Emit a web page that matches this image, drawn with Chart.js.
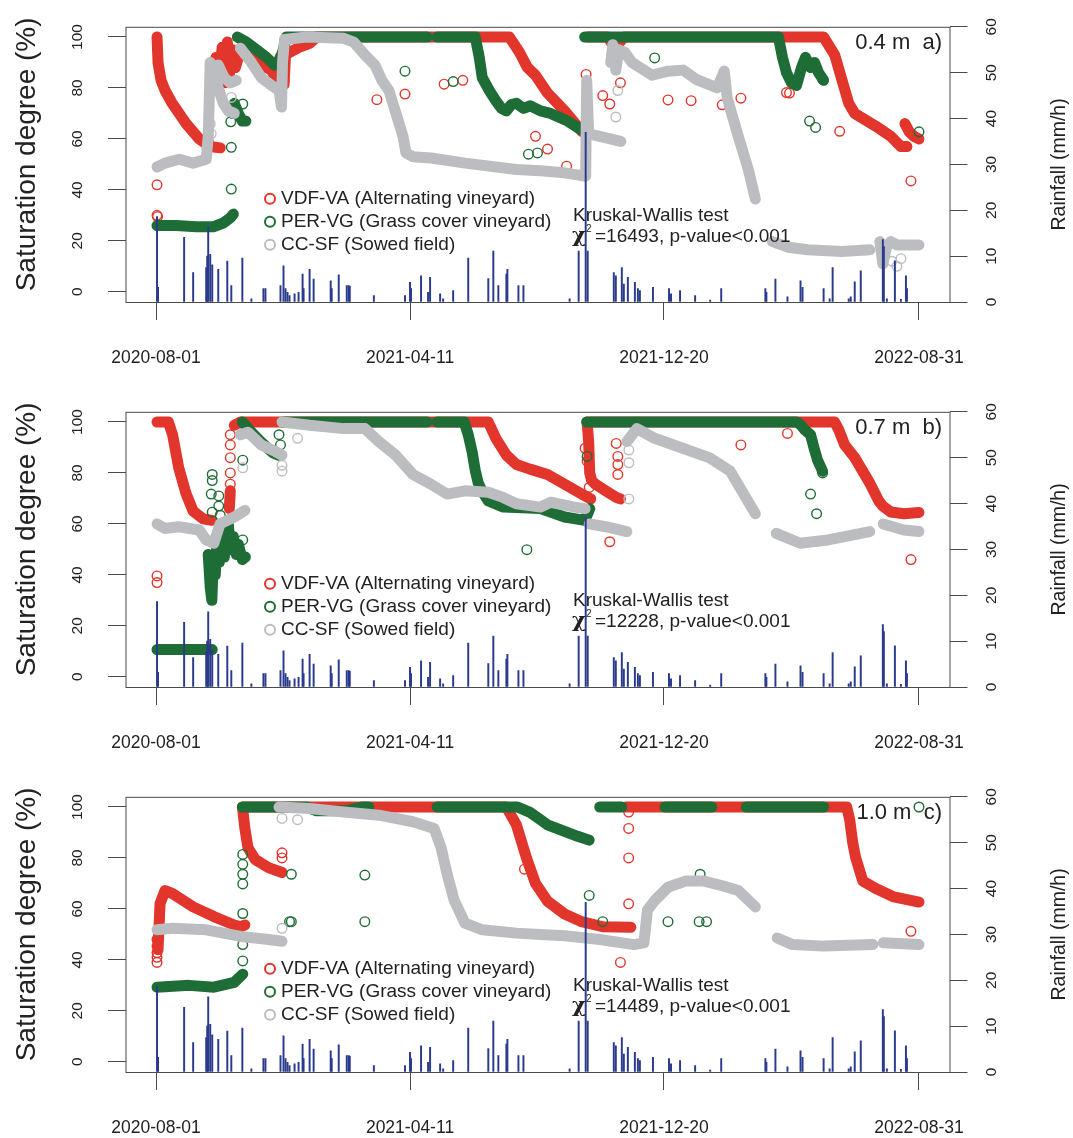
<!DOCTYPE html>
<html>
<head>
<meta charset="utf-8">
<script src="https://cdn.jsdelivr.net/npm/chart.js@4.4.1/dist/chart.umd.min.js"></script>
<style>
  html, body { margin: 0; padding: 0; background: #fff; overflow: hidden; }
  #wrap { position: relative; width: 1073px; height: 1138px; overflow: hidden; }
  .panel { position: absolute; left: 0; width: 1073px; height: 385px; }
</style>
</head>
<body>
<div id="wrap">
  <div class="panel" style="top:0"><canvas id="panelA" width="1073" height="385"></canvas></div>
  <div class="panel" style="top:385px"><canvas id="panelB" width="1073" height="385"></canvas></div>
  <div class="panel" style="top:770px"><canvas id="panelC" width="1073" height="385"></canvas></div>
</div>
<script>
// x = days since 2020-08-01
const xTickDays = [0, 253, 506, 760];
const xTickLabels = ['2020-08-01', '2021-04-11', '2021-12-20', '2022-08-31'];
const satTicks = [0, 20, 40, 60, 80, 100];
const rainTicks = [0, 10, 20, 30, 40, 50, 60];

// rainfall (mm/h), same station for all depths
const rainDays = [1,2,28,37,50,51,52,54,56,62,71,75,86,95,107,109,124,127,129,131,133,138,142,146,147,153,157,174,175,182,190,192,193,217,248,253,254,264,271,273,283,286,296,311,331,336,341,349,350,361,366,412,421,428,430,456,458,464,466,470,477,480,482,495,511,513,522,537,552,563,607,608,617,629,642,644,665,671,674,690,692,696,702,724,725,728,736,742,747,748];
const rainMm = [18.6,3.2,14.1,6.4,7.5,10,16.4,10.4,8.1,7.1,8.9,3.6,9.6,0.7,2.9,2.9,3.6,7.9,2.9,2.1,1.4,1.8,2.1,6.1,2.9,7.1,5,4.6,2.9,5.9,3.6,3.6,3.4,1.4,1.4,4.3,2.9,5.7,2.1,5.4,1.8,0.7,2.5,9.6,5.1,11.1,3.6,6.1,7.1,3.6,3.6,0.7,11.1,37,11.1,6.4,5.7,7.5,3.9,5.4,4.3,2.9,2.5,3.2,2.9,1.8,2.5,1.4,0.4,2.9,2.9,2.1,5,1.1,4.6,3.2,2.9,0.7,7.5,0.7,1.1,4.4,6.8,13.6,12.1,0.7,9,0.6,5.7,2.9];

// ---- 0.4 m (a) ----  [day, saturation %]
const vdfBandsA = [
  [[1,100],[2,90],[5,83],[9,79],[16,74],[30,66],[43,60],[53.5,57],[64,56.5]],
  [[57.6,80],[59.7,92],[62.8,84],[65.9,96],[67.9,82],[71,98],[73,85],[76,95],[79,88],[82,92]],
  [[98.5,93],[105,89],[115,87],[120,83],[123.5,92],[127.6,81.5],[129,93],[133,94],[143,96],[153,97.5],[160,100],[352,100],[362,94],[370,88],[378,85],[390,78],[407,71],[424,63],[429,62]],
  [[430,100],[450,100],[455,97],[462,98],[466,100],[665,100],[676,93],[690,74],[696,70],[717,65],[732,61],[742,57],[748,57]],
  [[746,66],[750,63],[755,61],[760,60]]
];
const vdfPointsA = [[1,42],[1,30],[1.5,29.5],[52,59],[220,75.4],[248,77.6],[287,81.5],[305.6,83],[378,61],[390,56],[409,49.3],[428.4,85.3],[445,77],[452,73.7],[462.6,82],[510,75.3],[533,75],[564,73.4],[582.6,76],[628,78.2],[631,78],[681,63],[752,43.5]];
const perBandsA = [
  [[1,26],[20,26],[40,25.5],[57,25.5],[67,27],[74,29],[77,30.5]],
  [[78,74],[82,70],[86,67],[89.5,67]],
  [[81,100],[90,98],[100,95],[110,92],[118,89],[122,90],[126,94],[130,100],[270,100]],
  [[280,100],[318,100],[322,92],[325,84],[332,79],[338.5,75],[344,72],[349,71],[354,73.5],[359,74],[366,72],[373,73],[383,71],[393,70],[410,67],[424,63.5],[427,63]],
  [[427,100],[620,100],[624,92],[628,86],[633,82],[638,81],[643,88],[647,92],[652,88],[656,90],[660,86],[665,83]]
];
const perPointsA = [[75,40.3],[75,56.7],[74.5,66.7],[86.4,73.7],[76,70],[248,86.6],[296,82.5],[371,54],[380,54.5],[496.7,91.8],[651,67],[657,64.5],[664,83.4],[760,62.8]];
const ccBandsA = [
  [[1,49],[9,50.5],[23,52],[37,50.5],[50,52],[52,61],[54,90],[58,86],[62,80],[67,74],[72,71],[78,70]],
  [[62,89],[68,84],[74,82],[80,83]],
  [[84,95.6],[95,90],[105,84],[115,81],[122.5,79],[125,72.5],[126,90],[128,99],[150,100],[187,99.5],[197,98],[208,93],[218,89],[225,83],[232,79],[239,70],[246,61],[249,54.5],[256,53],[274,52.5],[308,50.5],[359,48],[383,47.5],[407,46.7],[427,45.4]],
  [[428,45.4],[429,83],[431,62],[442,61],[463,59]],
  [[453,90],[455,97],[458,87],[461,95],[467,94],[474,90],[494,85],[510,86.6],[525,87],[538,83.4],[559,80],[566,86.6],[569,76],[580,61],[590,48],[597,36.4]],
  [[614,19.7],[630,17.5],[649,16.5],[683,15.8],[711,16.5]],
  [[721,19.7],[724,11],[728,18],[732,19.7],[738,18.4],[760,18.4]]
];
const ccPointsA = [[54,66],[55,62],[75,76.3],[458,68.6],[460,79],[733,12],[738,10],[742,13]];

// ---- 0.7 m (b) ----
const vdfBandsB = [
  [[1,100],[12.3,100],[16.5,95],[22.6,82],[29.8,72],[37,65],[47,62],[55.6,61.4]],
  [[73,66],[74,73]],
  [[78,98.7],[84,100],[331,100],[338.5,93.6],[349,87],[359,83.3],[372.5,81.5],[390,79.4],[407,75.6],[424,71.7],[433,69.8]],
  [[429.4,100],[431,92],[432,80],[434,77],[437.7,75.6],[448,73],[458.4,70.4],[462.6,69.8]],
  [[433,100],[676,100],[680,97],[686,91],[696,86],[711,76],[720,69],[724,67],[732,64.7],[745,64],[760,64.5]]
];
const vdfPointsB = [[1,39.6],[1,37],[74,95],[74,91],[74,86],[74,80],[74,75.6],[427.4,89.7],[429.4,84.6],[431.5,74.3],[452,53],[458.4,91.6],[460,86.5],[460,83.3],[460,79.4],[582.6,91],[629,95.5],[752,46]];
const perBandsB = [
  [[1,10.7],[56,10.7]],
  [[52,48],[54,35],[55.6,30],[57,45],[59,40],[61,55],[63,45],[66,58],[68,47],[72,60],[74,50],[77,55],[80,48],[82,52],[86,46],[89,47]],
  [[86,100],[95,96],[105,92],[116,88],[122,87]],
  [[126,100],[270,100]],
  [[280,100],[307,100],[311,95],[315,88],[318,81],[321,76],[326,72],[331,69],[346,66.6],[383,66],[407,62.7],[427,61.4],[430,64],[432,66]],
  [[429,100],[638,100],[642,99],[646,97],[652,95],[656,89],[659,85],[664,80.7]]
];
const perPointsB = [[56,79.4],[56,77],[55,71.7],[62.5,71],[62.5,67],[56,64.6],[64,63.4],[86.4,85],[86.4,53.7],[86.4,47.3],[122.5,95],[124,91],[369.4,49.9],[429.4,86.5],[652,71.7],[658,64],[664,80]];
const ccBandsB = [
  [[1,60],[9,58.2],[22.6,58.9],[43,57.6],[50,53.7],[57.6,52.4],[63.8,60],[78,62.7],[88.5,65.3]],
  [[84,95],[91.6,96],[105,91],[119,88.4],[125.5,87]],
  [[125.5,100],[153,98.7],[187,97.4],[208,97.4],[222,92.3],[238.7,87],[256,79.4],[273.7,75.6],[290,71.7],[307.7,73],[331,72.4],[345.7,70.4],[359,67.9],[383,66.6],[393,68.5],[417,66.6],[427.4,66]],
  [[431.5,60],[448,58.9],[469,57]],
  [[469,92.3],[479,97.4],[496.7,93.6],[524.7,89.7],[551.6,85.9],[572,80.7],[597,64]],
  [[617.8,56.3],[641.6,52.4],[669.5,53.7],[711,57]],
  [[724.4,60],[745,57.6],[760,57]]
];
const ccPointsB = [[86.4,82],[125.5,83],[125.5,80.7],[141,93.6],[471,89],[471,84],[471,69.8]];

// ---- 1.0 m (c) ----
const vdfBandsC = [
  [[2,44],[4,62],[9,67.2],[16.5,66],[37,60.8],[57.6,57],[78,53.7],[84.4,53],[88.5,53.7]],
  [[86.4,99],[88.5,91.6],[91.6,84],[98.8,79.4],[112,76.2],[125.5,74.3]],
  [[86,100],[349,100],[359,93],[369,80],[378,70],[390,63],[407,58],[424,55],[445,53],[473,52.8]],
  [[468,100],[688,100],[691,95],[694,86],[697,80],[704,71],[717,68],[735,64.7],[760,62.7]]
];
const vdfPointsC = [[1,39],[1,41],[1,42.8],[1,45.4],[1,48],[125.5,82],[125.5,80],[367,75.6],[470.8,98],[470.8,91.6],[470.8,80],[470.8,62],[462.6,39],[752,51.2]];
const perBandsC = [
  [[1,29.3],[33,30],[57.6,29.3],[78,31.2],[86.4,34.4]],
  [[86,100],[150,100],[160,98.5],[190,98.5],[205,100],[212,100]],
  [[280,100],[360,100],[372,98],[383,95],[390,93],[407,90.4],[420,88.5],[431.5,87]],
  [[442,100],[464,100]],
  [[507,100],[553.6,100]],
  [[588,100],[665,100]]
];
const perPointsC = [[86.4,39.6],[86.4,46],[86.4,58.2],[86.4,69.8],[86.4,73.6],[86.4,77.5],[86.4,81.4],[134.8,73.6],[134.8,55],[133,55],[208,73.3],[208,55],[431.5,65.3],[445,55],[510,55],[541,55],[548.4,55],[542,73.6],[760,100]];
const ccBandsC = [
  [[1,51.8],[16.5,52.4],[50,51.8],[84.4,49.2],[112,48],[125.5,47.3]],
  [[122.5,100],[153,99.4],[187,98],[222,96.8],[256,94.2],[277,91.6],[284,84],[290,73.6],[297,63.4],[307.7,54.4],[325,51.8],[359,50.5],[383,50],[407,49.5],[442,48],[476,46],[486,46.7],[489.5,59.5],[497,63.4],[510,68.5],[528,71],[545,71],[565,69],[580,67.2],[597,60.8]],
  [[618.8,48.6],[634,46],[665,45.4],[714,46]],
  [[724.4,46.7],[760,46]]
];
const ccPointsC = [[125.5,95.5],[141,95],[125.5,52.4]];

const FONT = '"Liberation Sans", Arial, sans-serif';
const TXT = '#222';
const AXIS = '#4a4a4a';
const RED = '#e2352b';
const GREEN = '#1f6d36';
const GREY = '#bcbdc0';
const NAVY = '#2a3a8c';

function bandSets(bands, color, order) {
  return bands.map(seg => ({
    type: 'line',
    data: seg.map(([x, y]) => ({ x, y })),
    borderColor: color,
    borderWidth: 11,
    borderCapStyle: 'round',
    borderJoinStyle: 'round',
    pointRadius: 0,
    fill: false,
    tension: 0,
    order: order,
    yAxisID: 'y'
  }));
}

function pointSet(points, color, order) {
  return {
    type: 'scatter',
    data: points.map(([x, y]) => ({ x, y })),
    pointRadius: 4.8,
    pointBorderWidth: 1.4,
    pointBorderColor: color,
    pointBackgroundColor: 'rgba(0,0,0,0)',
    showLine: false,
    order: order,
    yAxisID: 'y'
  };
}

const panelText = {
  id: 'panelText',
  afterDraw(chart, args, opts) {
    const { ctx, chartArea: a } = chart;
    ctx.save();
    ctx.strokeStyle = AXIS;
    ctx.lineWidth = 1;
    ctx.strokeRect(a.left + 0.5, a.top + 0.5, a.right - a.left, a.bottom - a.top);

    const midY = (a.top + a.bottom) / 2;
    ctx.fillStyle = TXT;
    ctx.textAlign = 'center';
    ctx.textBaseline = 'middle';

    ctx.save();
    ctx.translate(27.5, midY - 10);
    ctx.rotate(-Math.PI / 2);
    ctx.font = '28px ' + FONT;
    ctx.fillText('Saturation degree (%)', 0, 0);
    ctx.restore();

    ctx.save();
    ctx.translate(1060, midY);
    ctx.rotate(-Math.PI / 2);
    ctx.font = '19.5px ' + FONT;
    ctx.fillText('Rainfall (mm/h)', 0, 0);
    ctx.restore();

    // depth tag
    ctx.textAlign = 'right';
    ctx.font = '22px ' + FONT;
    ctx.fillText(opts.tag, 942, a.top + 16);

    // legend
    const items = [
      [RED, 'VDF-VA (Alternating vineyard)'],
      [GREEN, 'PER-VG (Grass cover vineyard)'],
      [GREY, 'CC-SF (Sowed field)']
    ];
    ctx.textAlign = 'left';
    ctx.font = '19px ' + FONT;
    items.forEach(([c, t], i) => {
      const y = a.top + 172 + i * 23;
      ctx.beginPath();
      ctx.strokeStyle = c;
      ctx.lineWidth = 2;
      ctx.arc(270, y, 5, 0, Math.PI * 2);
      ctx.stroke();
      ctx.fillStyle = TXT;
      ctx.fillText(t, 281, y);
    });

    // test result
    ctx.fillText('Kruskal-Wallis test', 573, a.top + 189);
    ctx.font = 'bold 21px "DejaVu Serif", serif';
    ctx.fillText('\u03c7', 572, a.top + 210);
    ctx.font = '10px ' + FONT;
    ctx.fillText('2', 586, a.top + 202);
    ctx.font = '19px ' + FONT;
    ctx.fillText('=' + opts.chi + ', p-value<0.001', 595, a.top + 210);
    ctx.restore();
  }
};

function makePanel(id, v, p, c, tag, chi) {
  const datasets = [
    {
      type: 'bar',
      data: rainDays.map((d, i) => ({ x: d, y: rainMm[i] })),
      backgroundColor: NAVY,
      barThickness: 1.3,
      grouped: false,
      yAxisID: 'y2',
      order: 0
    },
    ...bandSets(c.bands, GREY, 1), pointSet(c.points, GREY, 1),
    ...bandSets(p.bands, GREEN, 2), pointSet(p.points, GREEN, 2),
    ...bandSets(v.bands, RED, 3), pointSet(v.points, RED, 3)
  ];
  const tickFont = { family: FONT, size: 15.5 };
  new Chart(document.getElementById(id), {
    type: 'scatter',
    data: { datasets },
    options: {
      responsive: false,
      animation: false,
      devicePixelRatio: 1,
      layout: { padding: { top: 22, left: 0, right: 0, bottom: 0 } },
      plugins: {
        legend: { display: false },
        tooltip: { enabled: false },
        panelText: { tag, chi }
      },
      scales: {
        x: {
          type: 'linear', min: -30.4, max: 790.4, offset: false,
          afterBuildTicks: s => { s.ticks = xTickDays.map(val => ({ value: val })); },
          afterFit: s => { s.height = 83; },
          grid: { drawOnChartArea: false, drawTicks: true, offset: false, tickLength: 18, color: AXIS },
          border: { display: false },
          ticks: {
            autoSkip: false, maxRotation: 0, minRotation: 0, padding: 28, color: TXT,
            font: { family: FONT, size: 17.5 },
            callback: (val, i) => xTickLabels[i]
          }
        },
        y: {
          type: 'linear', position: 'left', min: -4, max: 104,
          afterBuildTicks: s => { s.ticks = satTicks.map(val => ({ value: val })); },
          afterFit: s => { s.width = 125.5; },
          grid: { drawOnChartArea: false, tickLength: 17.5, color: AXIS },
          border: { display: false },
          ticks: { minRotation: 90, maxRotation: 90, crossAlign: 'center', padding: 17.5, color: TXT, font: tickFont }
        },
        y2: {
          type: 'linear', position: 'right', min: 0, max: 60,
          afterBuildTicks: s => { s.ticks = rainTicks.map(val => ({ value: val })); },
          afterFit: s => { s.width = 123.5; },
          grid: { drawOnChartArea: false, tickLength: 18, color: AXIS },
          border: { display: false },
          ticks: { minRotation: 90, maxRotation: 90, crossAlign: 'center', padding: 16, color: TXT, font: tickFont }
        }
      }
    },
    plugins: [panelText]
  });
}

makePanel('panelA',
  { bands: vdfBandsA, points: vdfPointsA },
  { bands: perBandsA, points: perPointsA },
  { bands: ccBandsA, points: ccPointsA },
  '0.4 m  a)', '16493');
makePanel('panelB',
  { bands: vdfBandsB, points: vdfPointsB },
  { bands: perBandsB, points: perPointsB },
  { bands: ccBandsB, points: ccPointsB },
  '0.7 m  b)', '12228');
makePanel('panelC',
  { bands: vdfBandsC, points: vdfPointsC },
  { bands: perBandsC, points: perPointsC },
  { bands: ccBandsC, points: ccPointsC },
  '1.0 m  c)', '14489');
</script>
</body>
</html>
